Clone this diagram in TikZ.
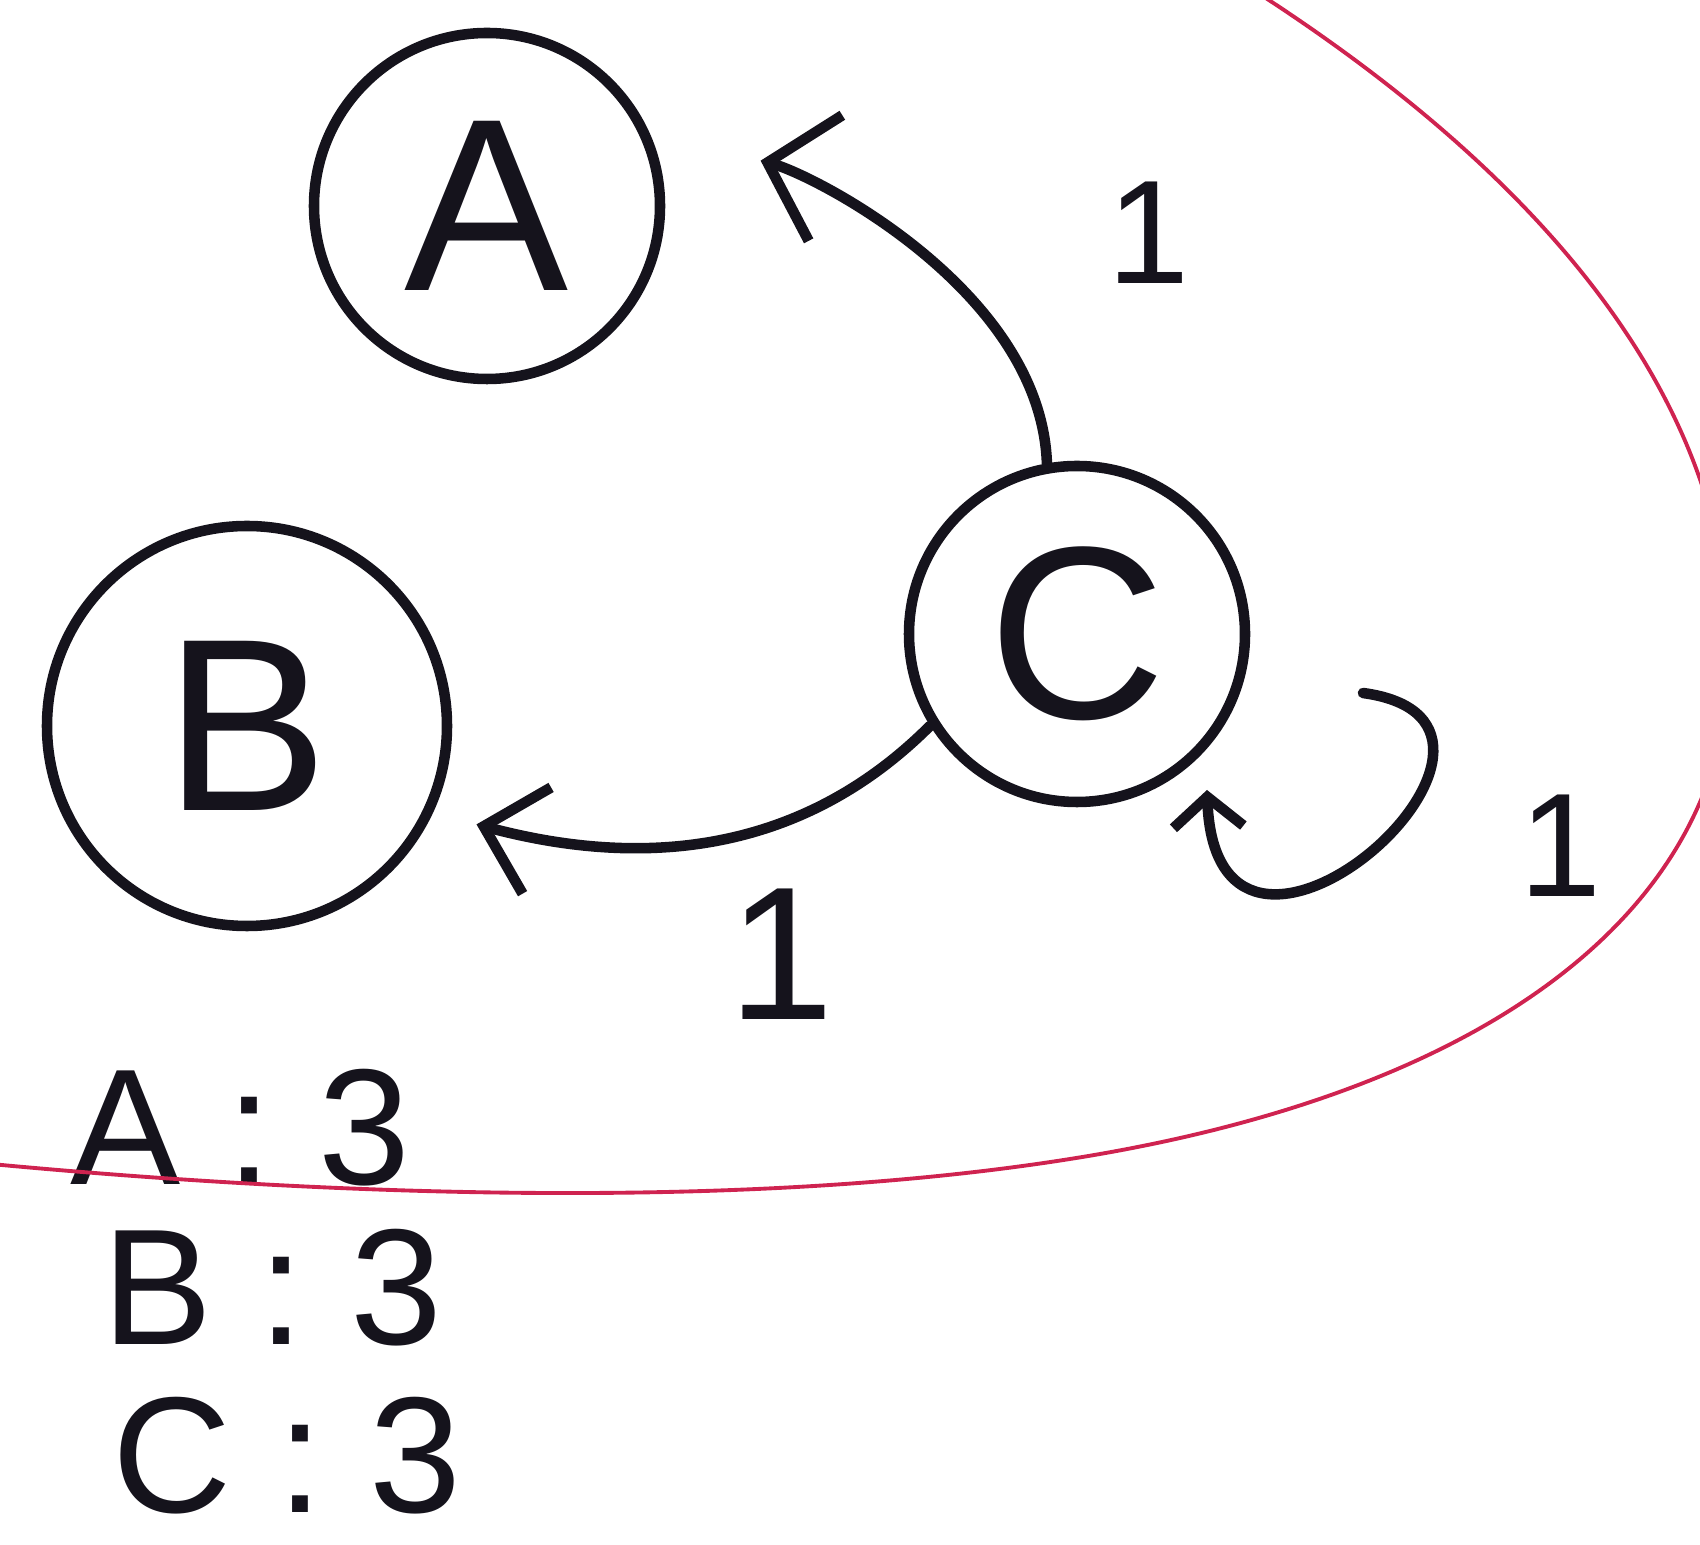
\documentclass[tikz,border=0pt]{standalone}
\usepackage{fontspec}
\setmainfont{Liberation Sans}
\usepackage{tikz}
\usetikzlibrary{arrows.meta, positioning, calc}
\usepackage{xcolor}
\definecolor{PenBlack}{HTML}{15131C}
\definecolor{MarkerRed}{HTML}{CF2350}
\tikzset{
    % Node styles - hand drawn look
    state/.style={
        circle,
        draw=PenBlack,
        line width=3pt,
        inner sep=0pt,
        text=PenBlack,
        font=\fontsize{70}{70}\selectfont
    },
    weight/.style={
        text=PenBlack,
        inner sep=0pt,
        font=\fontsize{42}{42}\selectfont
    },
    count/.style={
        anchor=west,
        text=PenBlack,
        inner sep=0pt,
        font=\fontsize{47}{47}\selectfont
    },
    % Arrow styles
    arrow/.style={
        -{Straight Barb[length=0.55cm, width=1.1cm]},
        line width=3pt,
        line cap=round,
        draw=PenBlack
    },
    bigarrow/.style={
        -{Straight Barb[length=0.6cm, width=1.3cm]},
        line width=3pt,
        line cap=round,
        draw=PenBlack
    },
    smallarrow/.style={
        -{Straight Barb[length=0.3cm, width=0.7cm]},
        line width=3pt,
        line cap=round,
        draw=PenBlack
    },
    boundary/.style={
        draw=MarkerRed,
        line width=1.1pt
    }
}

\begin{document}
\begin{tikzpicture}
    \useasboundingbox (0,0) rectangle (17,15.44);

    \node[state, minimum size=3.46cm] (A) at (4.87,13.38) {A};
    \node[state, minimum size=4cm] (B) at (2.47,8.18) {B};
    \node[state, minimum size=3.36cm] (C) at (10.77,9.10) {C};

    \draw[bigarrow, shorten >=1.16cm] (C.100) to[out=92, in=-15, looseness=0.85] (A.25);
    \draw[arrow, shorten >=0.45cm] (C.212) to[out=225, in=-15] (B.-25);

    % self loop on C
    \coordinate (loopS) at ([shift={(2.86,-0.59)}]C.center);
    \coordinate (loopE) at ([shift={(1.30,-1.56)}]C.center);
    \draw[smallarrow] (loopS) .. controls +(2.2,-0.3) and +(0.1,-2.6) .. (loopE);

    \node[weight] (w1) at (11.49,13.11) {1};
    \node[weight, font=\fontsize{54}{54}\selectfont] (w2) at (7.81,5.90) {1};
    \node[weight] (w3) at (15.61,6.98) {1};

    \node[count] (cntA) at (0.70,4.16) {A : 3};
    \node[count] (cntB) at (1.02,2.56) {B : 3};
    \node[count] (cntC) at (1.12,0.88) {C : 3};

    % red marker line
    \begin{scope}
        \clip (0,0) rectangle (17,15.44);
        \draw[boundary] (12.2,15.75) .. controls (15.2,13.9) and (17.3,11.6) .. (17.3,8.9)
            .. controls (17.3,6.4) and (15.0,4.6) .. (11.0,3.9)
            .. controls (7.5,3.29) and (3.0,3.5) .. (-0.3,3.82);
    \end{scope}
\end{tikzpicture}
\end{document}
